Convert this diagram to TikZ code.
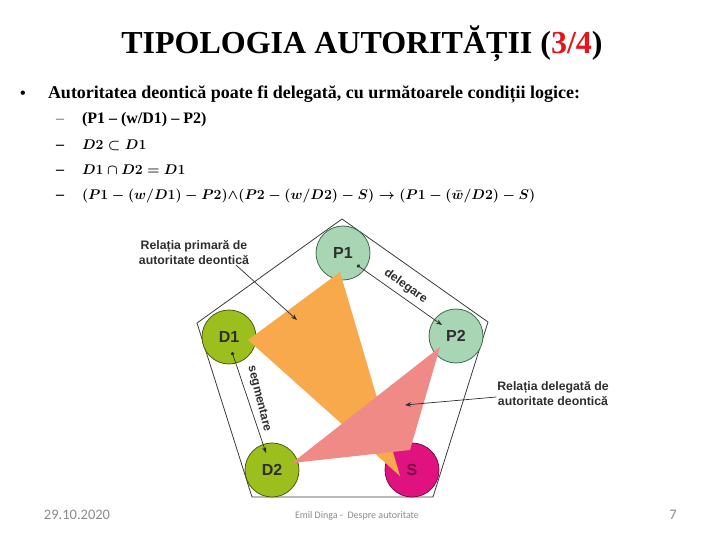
\documentclass[tikz,border=0pt]{standalone}
\usepackage{fix-cm}
\usepackage{fontspec}
\setmainfont{Liberation Serif}
\newfontfamily\arialfont{Liberation Sans}
\newfontfamily\calibrifont{Carlito}
\usetikzlibrary{arrows.meta}
\definecolor{titlered}{HTML}{E3161B}
\definecolor{footgray}{HTML}{8A8A8A}
\definecolor{pgreen}{HTML}{A8D5B3}
\definecolor{pgreenline}{HTML}{3F6B4C}
\definecolor{dgreen}{HTML}{9DBF1E}
\definecolor{dgreenline}{HTML}{4C5C12}
\definecolor{smagenta}{HTML}{E0127F}
\definecolor{smagentaline}{HTML}{7C0B47}
\definecolor{triorange}{HTML}{F7A94C}
\definecolor{tripink}{HTML}{F08A86}
\definecolor{edgegray}{HTML}{3A3A3A}
\definecolor{labelgray}{HTML}{2E2E2E}
\begin{document}
\begin{tikzpicture}[
    x=1pt, y=-1pt,
    every node/.style={inner sep=0pt, outer sep=0pt},
    titletxt/.style={anchor=base, font=\fontsize{32}{36}\selectfont\bfseries},
    itemtxt/.style={anchor=base west, font=\fontsize{16}{19}\selectfont\bfseries},
    leadtxt/.style={anchor=base west, font=\fontsize{18}{21}\selectfont\bfseries},
    mathtxt/.style={anchor=base west, font=\boldmath\fontsize{14}{17}\selectfont},
    foottxt/.style={anchor=base, text=footgray, font=\calibrifont},
    party/.style={circle, draw=#1, line width=0.8pt, minimum size=54pt},
    partytxt/.style={text=labelgray, font=\arialfont\bfseries\fontsize{16}{18}\selectfont},
    lbl/.style={text=labelgray, align=center, font=\arialfont\bfseries\fontsize{12.3}{15}\selectfont},
    linktxt/.style={text=labelgray, font=\arialfont\bfseries\fontsize{12}{14}\selectfont},
    linkarrow/.style={draw=labelgray, line width=0.7pt, {Circle[length=3.5pt]}-{Stealth[length=6pt,width=4.5pt]}},
    lblarrow/.style={draw=labelgray, line width=0.7pt, -{Stealth[length=6pt,width=4.5pt]}}
]
\useasboundingbox (0,0) rectangle (720,540);

\node[titletxt] (title) at (362,54) {TIPOLOGIA AUTORITĂȚII (\textcolor{titlered}{3/4})};

\node[itemtxt] (bullet) at (20,99) {\textbullet};
\node[leadtxt] (cond0) at (48,99) {Autoritatea deontică poate fi delegată, cu următoarele condiții logice:};
\node[itemtxt, text=footgray] (dash1) at (56,124) {–};
\node[itemtxt] (dash2) at (56,150) {–};
\node[itemtxt] (dash3) at (56,175) {–};
\node[itemtxt] (dash4) at (56,200) {–};
\node[itemtxt] (cond1) at (82,124) {(P1 – (w/D1) – P2)};
\node[mathtxt] (cond2) at (82,150) {$D2 \subset D1$};
\node[mathtxt] (cond3) at (82,175) {$D1 \cap D2 = D1$};
\node[mathtxt] (cond4) at (82,200) {$(P1-(w/D1)-P2){\wedge}(P2-(w/D2)-S) \rightarrow (P1-(\bar{w}/D2)-S)$};

\draw[edgegray, line width=0.8pt] (342,219) -- (488,322) -- (433,497) -- (252,497) -- (197,323) -- cycle;

\node[party=pgreenline, fill=pgreen] (p1) at (343,253) {};
\node[party=pgreenline, fill=pgreen] (p2) at (456,336) {};
\node[party=dgreenline, fill=dgreen] (d1) at (229,337) {};
\node[party=dgreenline, fill=dgreen] (d2) at (272,470) {};
\node[party=smagentaline, fill=smagenta] (s) at (412,470) {};

\fill[triorange] (340,272) -- (248,340) -- (400,476) -- cycle;
\fill[tripink] (440,347) -- (292,463) -- (410,450) -- cycle;

\node[partytxt] (p1txt) at (p1) {P1};
\node[partytxt] (p2txt) at (p2) {P2};
\node[partytxt] (d1txt) at (d1) {D1};
\node[partytxt] (d2txt) at (d2) {D2};
\node[partytxt, text=smagentaline] (stxt) at (s) {S};

\coordinate (p1dot) at (357,265);
\coordinate (p2tip) at (442,325);
\coordinate (d1dot) at (232,352);
\coordinate (d2tip) at (266,453);
\draw[linkarrow] (p1dot) -- node[linktxt, sloped, above=5pt] (delegtxt) {delegare} (p2tip);
\draw[linkarrow] (d1dot) -- (d2tip);
\node[linktxt, rotate=-76] (segmtxt) at (259,399) {segmentare};

\node[lbl] (primlbl) at (194,253) {Relația primară de\\autoritate deontică};
\node[lbl] (deleglbl) at (553,394) {Relația delegată de\\autoritate deontică};
\coordinate (primtip) at (297,320);
\coordinate (delegtip) at (405,405);
\draw[lblarrow] ([xshift=-13pt]primlbl.south east) -- (primtip);
\draw[lblarrow] ([xshift=-1pt, yshift=-3pt]deleglbl.west) -- (delegtip);

\node[foottxt, font=\calibrifont\fontsize{14.5}{16}\selectfont] (date) at (77,519) {29.10.2020};
\node[foottxt, font=\calibrifont\fontsize{10}{12}\selectfont] (author) at (357,518) {Emil Dinga -\ \ Despre autoritate};
\node[foottxt, font=\calibrifont\fontsize{14.5}{16}\selectfont] (page) at (673,519) {7};
\end{tikzpicture}
\end{document}
